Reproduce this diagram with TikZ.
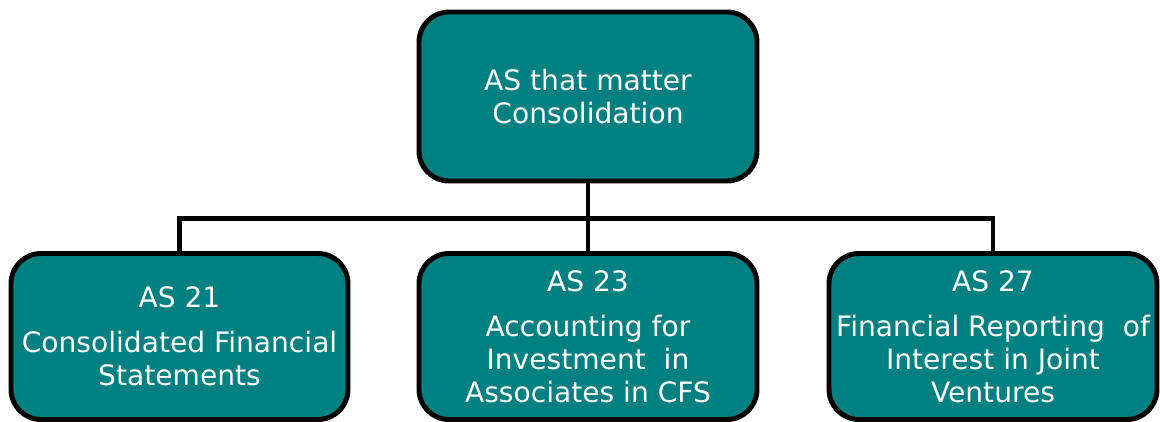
\documentclass[tikz,border=0pt]{standalone}
\usepackage{fontspec}
\setmainfont{DejaVu Sans}
\definecolor{asteal}{RGB}{0,128,128}
\begin{document}
\begin{tikzpicture}
    \tikzstyle{asbox}=[rectangle, rounded corners=0.3cm, draw=black, line width=1.4pt, fill=asteal, text=white, align=center, inner sep=0pt, font=\fontsize{8}{9.4}\selectfont]
    \tikzstyle{link}=[draw=black, line width=1.4pt]
    \useasboundingbox (0,0) rectangle (11.6,4.21);
    \node[asbox, minimum width=3.38cm, minimum height=1.69cm] (top) at (5.88,3.245) {AS that matter\\Consolidation};
    \node[asbox, minimum width=3.37cm, minimum height=1.66cm] (as21) at (1.795,0.845) {AS 21\\[0.12cm]Consolidated Financial\\Statements};
    \node[asbox, minimum width=3.38cm, minimum height=1.66cm] (as23) at (5.88,0.845) {AS 23\\[0.12cm]Accounting for\\Investment~~in\\Associates in CFS};
    \node[asbox, minimum width=3.28cm, minimum height=1.66cm] (as27) at (9.93,0.845) {AS 27\\[0.12cm]Financial Reporting~~of\\Interest in Joint\\Ventures};
    %\draw top -> as21 as23 as27;
    \draw[link] (top.south) -- ++(0,-0.35) -| (as21.north);
    \draw[link] (top.south) -- ++(0,-0.35) -| (as23.north);
    \draw[link] (top.south) -- ++(0,-0.35) -| (as27.north);
\end{tikzpicture}
\end{document}
